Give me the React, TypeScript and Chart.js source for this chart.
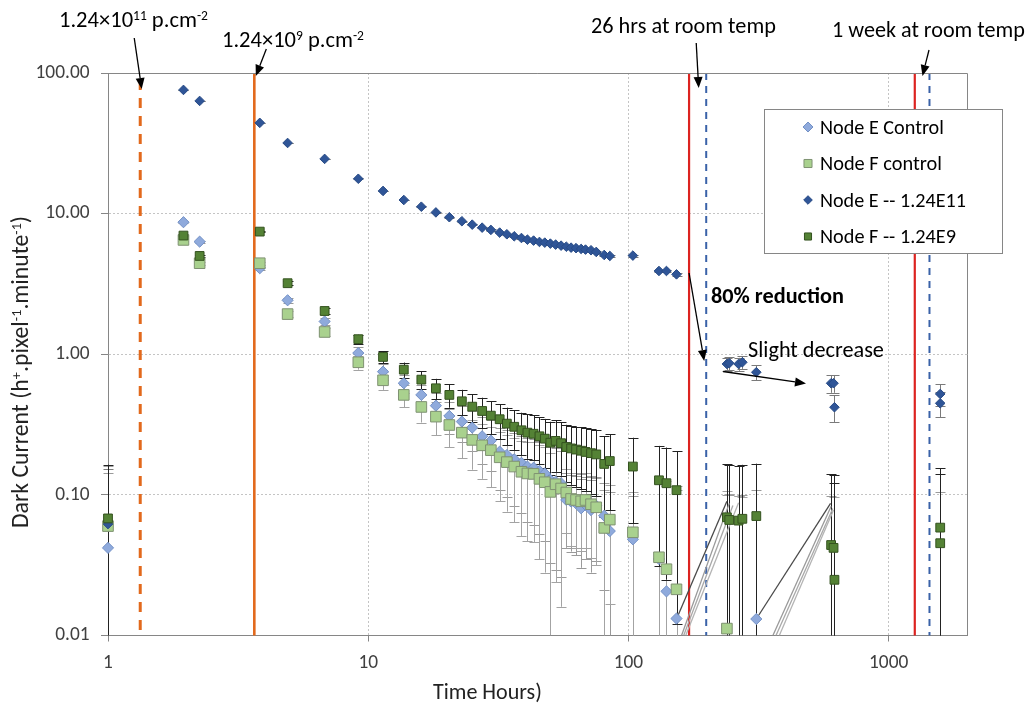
import React, { useEffect, useRef } from 'react';
import { Chart, registerables } from 'chart.js';

Chart.register(...registerables);

const FONT = 'Carlito, Calibri, Lato, sans-serif';

// ---------------- data ----------------
const timeHours = [
  1, 1.95, 2.25, 3.83, 4.9, 6.8, 9.16, 11.4, 13.7, 16.0,
  18.2, 20.5, 22.9, 25.1, 27.4, 29.6, 32.0, 34.1, 36.4, 38.8,
  40.9, 43.2, 45.5, 47.7, 50.1, 52.5, 55.1, 57.7, 60.2, 62.9,
  65.8, 68.4, 71.8, 75.2, 80.7, 84.8, 104, 131, 140, 153,
  239, 244, 265, 274, 310, 601, 614, 619, 1578, 1578,
];

const nodeEControl = [
  0.042, 8.69, 6.32, 4.09, 2.42, 1.71, 1.02, 0.752, 0.622, 0.514,
  0.431, 0.364, 0.332, 0.301, 0.261, 0.243, 0.203, 0.192, 0.179, 0.169,
  0.159, 0.156, 0.148, 0.142, 0.128, 0.124, 0.121, 0.092, 0.0895, 0.0871,
  0.0803, 0.0848, 0.078, 0.0838, 0.0711, 0.0553, 0.0483, 0.035, 0.0206, 0.0132,
  0.005, 0.004, 0.003, 0.004, 0.0131, 0.003, null, null, 0.009, null,
];

const nodeFControl = [
  0.060, 6.50, 4.44, 4.44, 1.93, 1.44, 0.877, 0.653, 0.514, 0.422,
  0.360, 0.314, 0.277, 0.246, 0.225, 0.208, 0.185, 0.171, 0.159, 0.146,
  0.142, 0.141, 0.130, 0.123, 0.105, 0.119, 0.111, 0.104, 0.0935, 0.092,
  0.090, 0.092, 0.0858, 0.0816, 0.0582, 0.0667, 0.0542, 0.036, 0.0296, 0.0213,
  0.0112, 0.006, 0.003, 0.002, null, null, 0.002, null, null, null,
];

const nodeE124E11 = [
  0.062, 75.8, 63.3, 44.2, 31.8, 24.5, 17.7, 14.5, 12.5, 11.2,
  10.2, 9.43, 8.83, 8.35, 7.95, 7.66, 7.33, 7.13, 6.90, 6.71,
  6.53, 6.43, 6.29, 6.22, 6.12, 6.02, 5.92, 5.82, 5.73, 5.68,
  5.61, 5.55, 5.49, 5.34, 5.08, 5.00, 5.03, 3.91, 3.91, 3.70,
  0.853, 0.863, 0.853, 0.877, 0.745, 0.622, 0.622, 0.420, 0.522, 0.448,
];

const nodeF124E9 = [
  0.068, 6.98, 5.00, 7.45, 3.20, 2.03, 1.28, 0.957, 0.777, 0.660,
  0.573, 0.514, 0.463, 0.424, 0.395, 0.366, 0.345, 0.321, 0.305, 0.288,
  0.277, 0.272, 0.261, 0.251, 0.235, 0.242, 0.233, 0.219, 0.214, 0.210,
  0.206, 0.202, 0.198, 0.194, 0.166, 0.174, 0.159, 0.127, 0.121, 0.108,
  0.0693, 0.0663, 0.0656, 0.0676, 0.0707, 0.0440, 0.0420, 0.0249, 0.0585, 0.0453,
];

// symmetric (absolute) error bar sizes
const errNodeEControl = [
  0.10, 0.10, 0.10, 0.10, 0.10, 0.10, 0.10, 0.095, 0.095, 0.095,
  0.095, 0.095, 0.095, 0.095, 0.095, 0.095, 0.095, 0.095, 0.095, 0.095,
  0.095, 0.095, 0.095, 0.095, 0.095, 0.095, 0.095, 0.05, 0.05, 0.05,
  0.05, 0.05, 0.05, 0.05, 0.05, 0.05, 0.05, 0.095, 0.095, 0.095,
  0.095, 0.095, 0.095, 0.095, 0.095, 0.095, 0.095, 0.095, 0.095, 0.095,
];
const errNodeFControl = [
  0.10, 0.10, 0.10, 0.10, 0.10, 0.10, 0.10, 0.095, 0.095, 0.095,
  0.095, 0.095, 0.095, 0.095, 0.095, 0.095, 0.095, 0.095, 0.095, 0.095,
  0.095, 0.095, 0.095, 0.095, 0.095, 0.095, 0.095, 0.05, 0.05, 0.05,
  0.05, 0.05, 0.05, 0.05, 0.05, 0.05, 0.05, 0.095, 0.095, 0.095,
  0.095, 0.095, 0.095, 0.095, 0.095, 0.095, 0.095, 0.095, 0.095, 0.095,
];
const errNodeE124E11 = 0.09;
const errNodeF124E9 = 0.096;

// grey traces (hidden series drawn as lines only)
const traceTimes = [
  [153, 239], [160, 244], [163, 252], [166, 265],
  [310, 598], [359, 601], [369, 610], [380, 614],
];
const traceValues = [
  [0.0131, 0.090], [0.010, 0.087], [0.010, 0.084], [0.010, 0.088],
  [0.0131, 0.087], [0.010, 0.083], [0.010, 0.080], [0.010, 0.078],
];
const traceShades = ['#4a4a4a', '#9a9a9a', '#a8a8a8', '#b4b4b4', '#4a4a4a', '#9a9a9a', '#a8a8a8', '#b4b4b4'];

// event lines (hours)
const irradiation11Time = 1.33;
const irradiation11Top = 89;
const irradiation9Time = 3.65;
const warmStartTimes = [171, 1260];
const warmEndTimes = [199, 1435];

const xTickValues = [1, 10, 100, 1000];
const yTickValues = [0.01, 0.1, 1, 10, 100];
const xMin = 1;
const xMax = 2000;
const yMin = 0.01;
const yMax = 100;

const legendLabels = ['Node E Control', 'Node F control', 'Node E -- 1.24E11', 'Node F -- 1.24E9'];
const xTitle = 'Time Hours)';

// ---------------- styles ----------------
const S = {
  eCtrl: { shape: 'rectRot', r: 5.6, bg: '#8FAADC', border: '#7391C6', err: '#9a9a9a', lr: 5 },
  fCtrl: { shape: 'rect', r: 7.5, bg: '#A9D18E', border: '#7F9272', err: '#a3a3a3', lr: 5.7 },
  e11: { shape: 'rectRot', r: 4.8, bg: '#2F5597', border: '#274A85', err: '#7a7a7a', lr: 4.3 },
  f9: { shape: 'rect', r: 6.2, bg: '#548235', border: '#34521F', err: '#222222', lr: 5 },
};

type Run = { t: string; sup?: boolean };

function runsWidth(ctx: CanvasRenderingContext2D, runs: Run[], size: number, weight: string) {
  let w = 0;
  for (const r of runs) {
    ctx.font = `${weight} ${r.sup ? size * 0.6 : size}px ${FONT}`;
    w += ctx.measureText(r.t).width;
  }
  return w;
}

function drawRuns(ctx: CanvasRenderingContext2D, runs: Run[], x: number, y: number, size: number, weight: string) {
  let cx = x;
  for (const r of runs) {
    const s = r.sup ? size * 0.6 : size;
    ctx.font = `${weight} ${s}px ${FONT}`;
    ctx.fillText(r.t, cx, r.sup ? y - size * 0.3 : y);
    cx += ctx.measureText(r.t).width;
  }
}

function fitSize(ctx: CanvasRenderingContext2D, runs: Run[], base: number, target: number, weight: string) {
  const w = runsWidth(ctx, runs, base, weight);
  const s = (base * target) / w;
  return Math.max(base * 0.8, Math.min(base * 1.25, s));
}

function drawMarker(ctx: CanvasRenderingContext2D, shape: string, x: number, y: number, r: number, bg: string, border: string) {
  ctx.beginPath();
  if (shape === 'rectRot') {
    ctx.moveTo(x - r, y);
    ctx.lineTo(x, y - r);
    ctx.lineTo(x + r, y);
    ctx.lineTo(x, y + r);
    ctx.closePath();
  } else {
    const h = r * Math.SQRT1_2;
    ctx.rect(x - h, y - h, 2 * h, 2 * h);
  }
  ctx.fillStyle = bg;
  ctx.fill();
  ctx.strokeStyle = border;
  ctx.lineWidth = 1;
  ctx.stroke();
}

function arrow(ctx: CanvasRenderingContext2D, x1: number, y1: number, x2: number, y2: number) {
  const head = 11;
  const half = 4.5;
  const a = Math.atan2(y2 - y1, x2 - x1);
  const bx = x2 - head * Math.cos(a);
  const by = y2 - head * Math.sin(a);
  ctx.beginPath();
  ctx.moveTo(x1, y1);
  ctx.lineTo(bx, by);
  ctx.stroke();
  ctx.beginPath();
  ctx.moveTo(x2, y2);
  ctx.lineTo(bx + half * Math.sin(a), by - half * Math.cos(a));
  ctx.lineTo(bx - half * Math.sin(a), by + half * Math.cos(a));
  ctx.closePath();
  ctx.fill();
}

const errorSeries = [
  { values: nodeEControl, err: errNodeEControl as number | number[], color: S.eCtrl.err },
  { values: nodeFControl, err: errNodeFControl as number | number[], color: S.fCtrl.err },
  { values: nodeE124E11, err: errNodeE124E11 as number | number[], color: S.e11.err },
  { values: nodeF124E9, err: errNodeF124E9 as number | number[], color: S.f9.err },
];

const eventLinePlugin = {
  id: 'eventLines',
  beforeDatasetsDraw(chart: any) {
    const { ctx, chartArea, scales } = chart;
    const xs = scales.x;
    const ys = scales.y;
    ctx.save();
    const vline = (t: number, top: number, color: string, width: number, dash: number[]) => {
      const x = xs.getPixelForValue(t);
      ctx.beginPath();
      ctx.setLineDash(dash);
      ctx.strokeStyle = color;
      ctx.lineWidth = width;
      ctx.moveTo(x, ys.getPixelForValue(top));
      ctx.lineTo(x, chartArea.bottom);
      ctx.stroke();
    };
    vline(irradiation11Time, irradiation11Top, '#E2691C', 3, [10, 8]);
    vline(irradiation9Time, yMax, '#E2691C', 2.6, []);
    warmStartTimes.forEach((t) => vline(t, yMax, '#DC2320', 2.2, []));
    warmEndTimes.forEach((t) => vline(t, yMax, '#3A62A8', 2, [7, 6]));
    ctx.restore();
  },
};

const errorBarPlugin = {
  id: 'errorBars',
  beforeDatasetsDraw(chart: any) {
    const { ctx, chartArea, scales } = chart;
    const xs = scales.x;
    const ys = scales.y;
    ctx.save();
    ctx.beginPath();
    ctx.rect(chartArea.left - 10, chartArea.top, chartArea.right - chartArea.left + 20, chartArea.bottom - chartArea.top);
    ctx.clip();
    ctx.setLineDash([]);
    ctx.lineWidth = 1;
    for (const s of errorSeries) {
      ctx.strokeStyle = s.color;
      s.values.forEach((v, i) => {
        if (v == null) return;
        const e = Array.isArray(s.err) ? s.err[i] : s.err;
        const x = Math.round(xs.getPixelForValue(timeHours[i])) + 0.5;
        const hi = v + e;
        const lo = v - e;
        const yHi = ys.getPixelForValue(hi);
        const yLo = lo > 0 ? ys.getPixelForValue(lo) : chartArea.bottom + 30;
        ctx.beginPath();
        ctx.moveTo(x, yHi);
        ctx.lineTo(x, yLo);
        ctx.moveTo(x - 5, Math.round(yHi) + 0.5);
        ctx.lineTo(x + 5, Math.round(yHi) + 0.5);
        if (lo > 0) {
          ctx.moveTo(x - 5, Math.round(yLo) + 0.5);
          ctx.lineTo(x + 5, Math.round(yLo) + 0.5);
        }
        ctx.stroke();
      });
    }
    ctx.restore();
  },
};

const overlayPlugin = {
  id: 'overlay',
  afterDraw(chart: any) {
    const { ctx, chartArea, scales } = chart;
    const xs = scales.x;
    ctx.save();
    ctx.setLineDash([]);
    // plot frame (top & right)
    ctx.strokeStyle = '#868686';
    ctx.lineWidth = 1;
    ctx.beginPath();
    ctx.moveTo(chartArea.left, Math.round(chartArea.top) + 0.5);
    ctx.lineTo(Math.round(chartArea.right) + 0.5, Math.round(chartArea.top) + 0.5);
    ctx.lineTo(Math.round(chartArea.right) + 0.5, chartArea.bottom);
    ctx.stroke();

    // legend
    const lx = 764.5;
    const ly = 109.5;
    ctx.fillStyle = '#ffffff';
    ctx.fillRect(lx, ly, 238, 144);
    ctx.strokeStyle = '#868686';
    ctx.strokeRect(lx, ly, 238, 144);
    const styles = [S.eCtrl, S.fCtrl, S.e11, S.f9];
    const rows = [127, 163.5, 200, 236.5];
    const widths = [124, 122, 146, 136];
    styles.forEach((st, i) => {
      drawMarker(ctx, st.shape, 808, rows[i], st.lr, st.bg, st.border);
      const runs = [{ t: legendLabels[i] }];
      const size = fitSize(ctx, runs, 18, widths[i], 'normal');
      ctx.fillStyle = '#000000';
      ctx.textBaseline = 'alphabetic';
      drawRuns(ctx, runs, 820, rows[i] + size * 0.34, size, 'normal');
    });

    // annotations
    ctx.fillStyle = '#000000';
    ctx.textBaseline = 'alphabetic';
    const notes: { runs: Run[]; x: number; y: number; w: number; size: number; weight: string }[] = [
      { runs: [{ t: '1.24×10' }, { t: '11', sup: true }, { t: ' p.cm' }, { t: '-2', sup: true }], x: 59, y: 27, w: 149, size: 20, weight: 'normal' },
      { runs: [{ t: '1.24×10' }, { t: '9', sup: true }, { t: ' p.cm' }, { t: '-2', sup: true }], x: 222, y: 47, w: 142, size: 20, weight: 'normal' },
      { runs: [{ t: '26 hrs at room temp' }], x: 591, y: 33, w: 185, size: 20, weight: 'normal' },
      { runs: [{ t: '1 week at room temp' }], x: 832, y: 37, w: 193, size: 20, weight: 'normal' },
      { runs: [{ t: '80% reduction' }], x: 711, y: 303, w: 133, size: 18, weight: 'bold' },
      { runs: [{ t: 'Slight decrease' }], x: 748, y: 357, w: 136, size: 20, weight: 'normal' },
    ];
    notes.forEach((n) => {
      const size = fitSize(ctx, n.runs, n.size, n.w, n.weight);
      drawRuns(ctx, n.runs, n.x, n.y, size, n.weight);
    });

    // arrows
    ctx.strokeStyle = '#000000';
    ctx.fillStyle = '#000000';
    ctx.lineWidth = 1.3;
    const x11 = xs.getPixelForValue(irradiation11Time);
    const x9 = xs.getPixelForValue(irradiation9Time);
    const xw1 = xs.getPixelForValue(warmStartTimes[0]);
    const xe1 = xs.getPixelForValue(warmEndTimes[0]);
    const xe2 = xs.getPixelForValue(warmEndTimes[1]);
    arrow(ctx, x11 - 6, 38, x11 + 1.5, 89);
    arrow(ctx, x9 + 12, 49, x9 + 1.5, 76);
    arrow(ctx, xe1 - 10, 43, xe1 - 7.5, 88);
    arrow(ctx, xe2 - 0.5, 50, xe2 - 7, 76);
    arrow(ctx, xw1, 273, xe1 - 2, 361);
    arrow(ctx, xw1 + 34, 371.5, 806, 383.5);

    // x title
    const tRuns = [{ t: xTitle }];
    const tSize = fitSize(ctx, tRuns, 18, 109, 'normal');
    ctx.fillStyle = '#222222';
    drawRuns(ctx, tRuns, 433, 699, tSize, 'normal');

    // y title (rotated)
    const yRuns: Run[] = [
      { t: 'Dark Current (h' }, { t: '+', sup: true }, { t: '.pixel' }, { t: '-1', sup: true },
      { t: '.minute' }, { t: '-1', sup: true }, { t: ')' },
    ];
    const ySize = fitSize(ctx, yRuns, 19, 365, 'normal');
    const yw = runsWidth(ctx, yRuns, ySize, 'normal');
    ctx.translate(28, 372);
    ctx.rotate(-Math.PI / 2);
    drawRuns(ctx, yRuns, -yw / 2, 0, ySize, 'normal');
    ctx.restore();
  },
};

function points(values: (number | null)[]) {
  const out: { x: number; y: number }[] = [];
  values.forEach((v, i) => {
    if (v != null) out.push({ x: timeHours[i], y: v });
  });
  return out;
}

export default function App() {
  const ref = useRef<HTMLCanvasElement>(null);
  useEffect(() => {
    const canvas = ref.current;
    if (!canvas) return;
    const m = document.createElement('canvas').getContext('2d')!;
    m.font = `18px ${FONT}`;
    const tickSize = Math.max(14, Math.min(22, (18 * 54) / m.measureText('100.00').width));

    const clip = { left: 12, top: 12, right: 12, bottom: 0 };
    const mk = (label: string, data: any, st: any, order: number) => ({
      label,
      data,
      order,
      clip,
      pointStyle: st.shape,
      pointRadius: st.r,
      backgroundColor: st.bg,
      borderColor: st.border,
      pointBackgroundColor: st.bg,
      pointBorderColor: st.border,
      pointBorderWidth: 1,
      showLine: false,
    });

    const datasets: any[] = [
      mk(legendLabels[0], points(nodeEControl), S.eCtrl, 4),
      mk(legendLabels[1], points(nodeFControl), S.fCtrl, 3),
      mk(legendLabels[2], points(nodeE124E11), S.e11, 2),
      mk(legendLabels[3], points(nodeF124E9), S.f9, 1),
    ];
    traceTimes.forEach((ts, k) => {
      datasets.push({
        label: 'trace' + k,
        data: ts.map((t, j) => ({ x: t, y: traceValues[k][j] })),
        order: 6,
        clip,
        showLine: true,
        pointRadius: 0,
        borderColor: traceShades[k],
        borderWidth: 1.3,
        fill: false,
      });
    });

    const chart = new Chart(canvas, {
      type: 'scatter',
      data: { datasets },
      options: {
        animation: false,
        responsive: false,
        devicePixelRatio: 1,
        events: [],
        layout: { padding: { top: 73, right: 58, left: 0, bottom: 0 } },
        plugins: { legend: { display: false }, tooltip: { enabled: false } },
        scales: {
          x: {
            type: 'logarithmic',
            position: 'bottom',
            min: xMin,
            max: xMax,
            afterBuildTicks: (s: any) => {
              s.ticks = xTickValues.map((v) => ({ value: v }));
            },
            afterFit: (s: any) => {
              s.height = 73.5;
            },
            ticks: {
              autoSkip: false,
              maxRotation: 0,
              padding: 10,
              color: '#404040',
              font: { family: FONT, size: tickSize },
              callback: (v: any) => String(v),
            },
            grid: { color: '#C4C4C4', lineWidth: 1, tickLength: 6, tickColor: '#868686', tickBorderDash: [] },
            border: { display: true, color: '#868686', width: 1, dash: [2, 2] },
          },
          y: {
            type: 'logarithmic',
            min: yMin,
            max: yMax,
            afterBuildTicks: (s: any) => {
              s.ticks = yTickValues.map((v) => ({ value: v }));
            },
            afterFit: (s: any) => {
              s.width = 108;
            },
            ticks: {
              autoSkip: false,
              padding: 11.5,
              color: '#404040',
              font: { family: FONT, size: tickSize },
              callback: (v: any) => Number(v).toFixed(2),
            },
            grid: { color: '#C4C4C4', lineWidth: 1, tickLength: 7, tickColor: '#868686', tickBorderDash: [] },
            border: { display: true, color: '#868686', width: 1, dash: [2, 2] },
          },
        },
      } as any,
      plugins: [eventLinePlugin, errorBarPlugin, overlayPlugin],
    });
    return () => chart.destroy();
  }, []);

  return (
    <div style={{ position: 'absolute', left: 0, top: 0, width: 1025, height: 709, background: '#ffffff' }}>
      <canvas ref={ref} width={1025} height={709} style={{ display: 'block', width: 1025, height: 709 }} />
    </div>
  );
}
